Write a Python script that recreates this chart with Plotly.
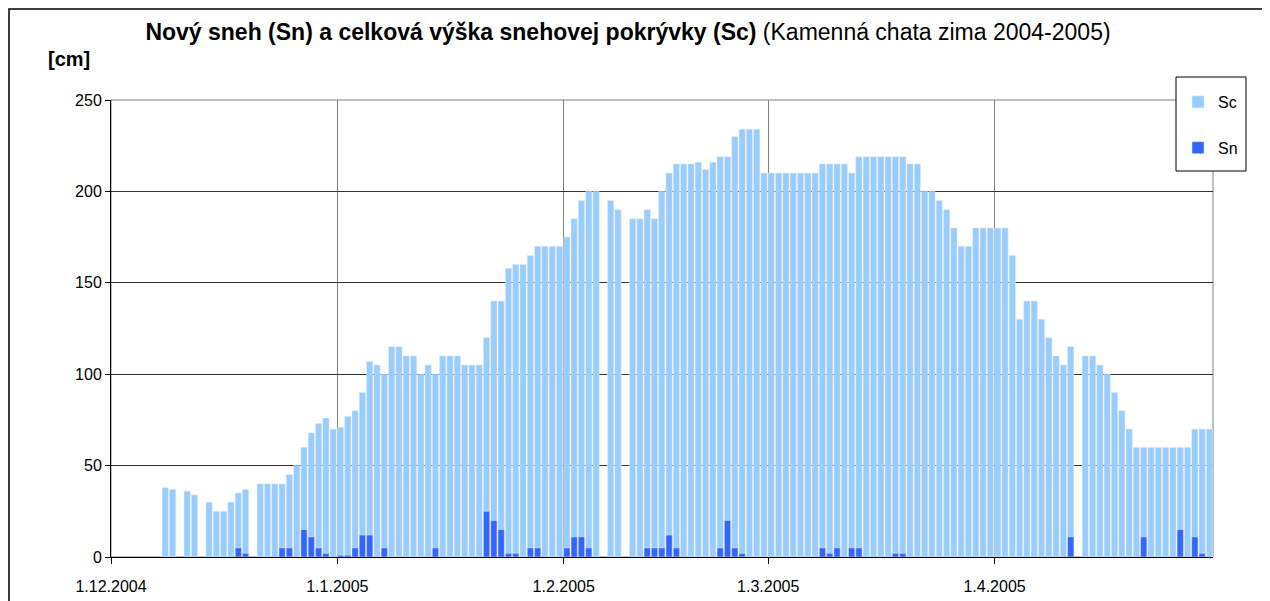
import pandas as pd
import plotly.graph_objects as go

N = None
# Celková výška snehovej pokrývky (Sc) [cm], daily values per month
sc_dec = [N, N, N, N, N, N, N, 38, 37, N, 36, 34, N, 30, 25, 25, 30, 35, 37, N,
          40, 40, 40, 40, 45, 50, 60, 68, 73, 76, 70]
sc_jan = [71, 77, 80, 90, 107, 105, 100, 115, 115, 110, 110, 100, 105, 100, 110, 110,
          110, 105, 105, 105, 120, 140, 140, 158, 160, 160, 165, 170, 170, 170, 170]
sc_feb = [175, 185, 195, 200, 200, N, 195, 190, N, 185, 185, 190, 185, 200, 210, 215,
          215, 215, 216, 212, 216, 219, 219, 230, 234, 234, 234, 210]
sc_mar = [210, 210, 210, 210, 210, 210, 210, 215, 215, 215, 215, 210, 219, 219, 219, 219,
          219, 219, 219, 215, 215, 200, 200, 195, 190, 180, 170, 170, 180, 180, 180]
sc_apr = [180, 180, 165, 130, 140, 140, 130, 120, 110, 105, 115, N, 110, 110, 105, 100,
          90, 80, 70, 60, 60, 60, 60, 60, 60, 60, 60, 70, 70, 70]

# Nový sneh (Sn) [cm]
sn_dec = [N] * 17 + [5, 2, N, N, N, N, 5, 5, N, 15, 11, 5, 2, N]
sn_jan = [1, 1, 5, 12, 12, N, 5, N, N, N, N, N, N, 5, N, N, N, N, N, N,
          25, 20, 15, 2, 2, N, 5, 5, N, N, N]
sn_feb = [5, 11, 11, 5, N, N, N, N, N, N, N, 5, 5, 5, 12, 5, N, N, N, N,
          N, 5, 20, 5, 2, N, N, N]
sn_mar = [N, N, N, N, N, N, N, 5, 2, 5, N, 5, 5, N, N, N, N, 2, 2, N,
          N, N, N, N, N, N, N, N, N, N, N]
sn_apr = [N, N, N, N, N, N, N, N, N, N, 11, N, N, N, N, N, N, N, N, N,
          11, N, N, N, N, 15, N, 11, 2, N]

sc = sc_dec + sc_jan + sc_feb + sc_mar + sc_apr
sn = sn_dec + sn_jan + sn_feb + sn_mar + sn_apr
dates = pd.date_range("2004-12-01", periods=len(sc), freq="D").strftime("%Y-%m-%d").tolist()

title_main = "Nový sneh (Sn) a celková výška snehovej pokrývky (Sc)"
title_sub = "(Kamenná chata zima 2004-2005)"

DAY_MS = 86400000
FONT = "Liberation Sans, Arial, sans-serif"

# page offset (browser body margin) = 8 px; plot area on screen: x 111..1213, y 100..556.7
W, H = 1270, 601
PL, PR, PT, PB = 111 - 8, 1213 - 8, 100 - 8, 557 - 8
PW, PH = PR - PL, PB - PT


def px(xs):  # screen x -> paper
    return (xs - 111) / PW


def py(ys):  # screen y -> paper
    return (557 - ys) / PH


fig = go.Figure()
fig.add_trace(go.Bar(x=dates, y=sc, name="Sc", marker_color="#99CCFF",
                     width=0.86 * DAY_MS, offset=0, legendgroup="sc"))
fig.add_trace(go.Bar(x=dates, y=sn, name="Sn", marker_color="#3366FF",
                     width=0.86 * DAY_MS, offset=0, legendgroup="sn"))

fig.update_layout(
    width=W, height=H,
    margin=dict(l=PL, r=W - PR, t=PT, b=H - PB, autoexpand=False),
    paper_bgcolor="white", plot_bgcolor="white",
    barmode="overlay",
    font=dict(family=FONT, size=16, color="black"),
    title=dict(text=f"<b>{title_main}</b> {title_sub}",
               x=(628 - 8) / W, xref="container", xanchor="center",
               y=1 - (32 - 8) / H, yref="container", yanchor="middle",
               font=dict(family=FONT, size=23, color="black")),
    legend=dict(x=px(1178), y=py(85), xanchor="left", yanchor="top",
                borderwidth=0, bgcolor="rgba(0,0,0,0)",
                font=dict(family=FONT, size=16), tracegroupgap=22,
                traceorder="grouped"),
    showlegend=True,
)

fig.update_xaxes(
    type="date", range=["2004-12-01", "2005-04-30 22:00"],
    tick0="2004-12-01", dtick="M1", tickformat="%-d.%-m.%Y",
    ticks="outside", ticklen=6, tickcolor="black",
    showgrid=True, gridcolor="#808080", gridwidth=1,
    showline=True, linecolor="black", linewidth=1,
    ticklabelstandoff=9,
    tickfont=dict(family=FONT, size=16),
)
fig.update_yaxes(
    range=[0, 250], dtick=50, tick0=0,
    ticks="outside", ticklen=5, tickcolor="black",
    showgrid=True, gridcolor="#333333", gridwidth=1,
    zeroline=False,
    showline=True, linecolor="black", linewidth=1,
    tickfont=dict(family=FONT, size=16),
)

# plot area frame (gray)
fig.add_shape(type="rect", xref="x domain", yref="y domain", x0=0, x1=1, y0=0, y1=1,
              line=dict(color="#808080", width=1), layer="below")
# outer chart border
fig.add_shape(type="rect", xref="paper", yref="paper",
              x0=px(9), x1=px(1290), y0=py(620), y1=py(9),
              line=dict(color="black", width=1.5), layer="above")
# legend box
fig.add_shape(type="rect", xref="paper", yref="paper",
              x0=px(1176), x1=px(1246), y0=py(171), y1=py(77),
              line=dict(color="black", width=1), fillcolor="white", layer="above")

fig.add_annotation(text="<b>[cm]</b>", xref="paper", yref="paper",
                   x=px(68.5), y=py(59),
                   xanchor="center", yanchor="middle", showarrow=False,
                   font=dict(family=FONT, size=20, color="black"))

fig.write_html("out.html")
